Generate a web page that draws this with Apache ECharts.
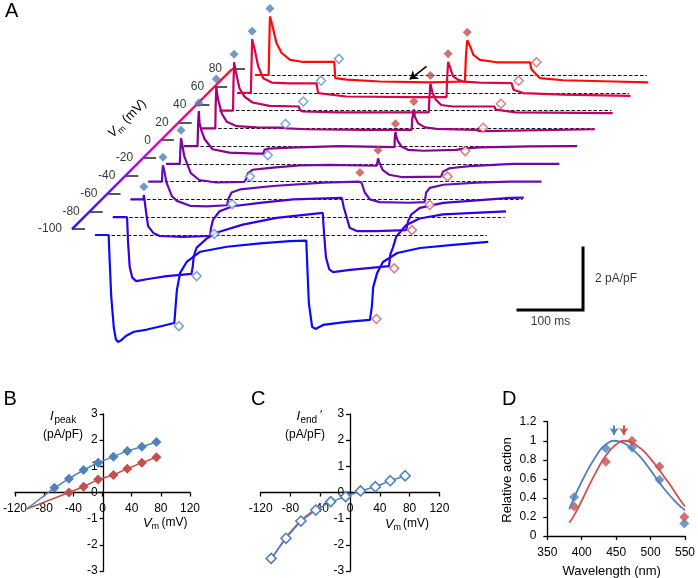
<!DOCTYPE html>
<html><head><meta charset="utf-8">
<script src="https://cdn.jsdelivr.net/npm/echarts@6/dist/echarts.min.js"></script>
<style>html,body{margin:0;padding:0;background:#fff}#c{width:698px;height:578px}</style>
</head><body><div id="c"></div><script>
// ---------- DATA ----------
const vmLevels = [-100,-80,-60,-40,-20,0,20,40,60,80];
// traces: [time from trace start (ms), current relative to trace baseline (pA/pF)]
const trace_m100 = [[0,0],[21,0],[22.5,-0.8],[25,-2.0],[29,-3.0],[32,-3.35],[35,-3.45],[40,-3.4],[48,-3.25],[60,-3.12],[80,-3.05],[100,-2.95],[122,-2.84],[124,-2.3],[126,-1.77],[131,-1.22],[141,-0.87],[162,-0.54],[203,-0.38],[254,-0.27],[300,-0.2],[325,-0.18],[327,-1.2],[329,-2.2],[334,-2.96],[339,-3.03],[351,-2.9],[387,-2.8],[423,-2.74],[426,-2.3],[428,-1.68],[434,-1.23],[443,-0.87],[465,-0.58],[500,-0.42],[551,-0.32],[605,-0.22]];
const trace_m80 = [[0,0],[22,0],[23.5,-0.8],[26,-1.6],[30,-1.95],[36,-2.06],[45,-2.03],[52,-2.0],[83,-1.9],[121,-1.83],[123,-1.6],[124.5,-1.26],[129,-0.98],[144,-0.7],[159,-0.5],[200,-0.24],[252,-0.02],[323,0.14],[325,-0.5],[328,-1.3],[333,-1.68],[339,-1.77],[365,-1.7],[425,-1.58],[427,-1.2],[431,-0.98],[436,-0.63],[451,-0.26],[472,-0.04],[508,0.09],[605,0.19]];
const trace_m60 = [[0,0],[20,0],[20.5,0.15],[22,0.12],[24,-0.43],[27,-0.86],[35,-1.08],[45,-1.18],[81,-1.21],[122,-1.18],[124,-0.9],[127,-0.65],[137,-0.38],[157,-0.22],[199,-0.11],[250,0],[325,0.05],[328,-0.25],[332,-0.54],[337,-0.91],[348,-1.02],[378,-1.02],[424,-0.99],[427,-0.7],[432,-0.48],[445,-0.27],[481,-0.11],[584,0.05],[605,0.06]];
const trace_m40 = [[0,0],[21,0],[21.5,0.3],[22.5,0.53],[25,0.3],[28,-0.03],[36,-0.46],[44,-0.62],[64,-0.78],[90,-0.8],[121,-0.76],[123,-0.57],[128,-0.35],[141,-0.25],[192,-0.14],[269,-0.03],[324,0],[325.5,0.04],[328,-0.03],[333,-0.35],[341,-0.57],[356,-0.66],[402,-0.68],[425,-0.66],[427.5,-0.35],[433,-0.2],[454,-0.1],[505,-0.03],[557,0],[605,0]];
const trace_m20 = [[0,0],[21,0],[22,0.5],[23,0.83],[25,0.6],[28,0.24],[38,-0.3],[51,-0.52],[77,-0.6],[120,-0.58],[123,-0.5],[126,-0.3],[133,-0.19],[164,-0.12],[205,-0.05],[252,-0.03],[324,-0.06],[325,0.05],[326,0.18],[328,0.05],[333,-0.19],[343,-0.35],[364,-0.43],[423,-0.41],[426,-0.25],[436,-0.14],[467,-0.07],[533,0],[605,0]];
const trace_0 = [[0,0],[21,0],[22,0.8],[23,1.13],[24,0.75],[27,0.5],[32,0.22],[44,-0.1],[70,-0.21],[111,-0.24],[122,-0.24],[124,-0.12],[130,-0.08],[163,-0.05],[240,0],[324,-0.03],[324.5,0.3],[325.5,0.46],[327,0.3],[329,0.17],[334.5,-0.01],[345,-0.12],[368,-0.15],[419,-0.12],[425,-0.1],[429,-0.08],[455,-0.04],[532,-0.01],[605,0]];
const trace_20 = [[0,0],[21,0],[21.5,0.7],[22.5,1.33],[24,1.1],[25.5,0.91],[31,0.48],[38.5,0.21],[54,0.07],[85,0.03],[122,0.02],[124,0],[131,0],[161,-0.03],[250,-0.05],[323,-0.05],[324,0.3],[326.5,0.61],[328,0.37],[333,0.16],[343.5,0.03],[361.5,-0.02],[423,-0.05],[428,-0.09],[454,-0.08],[605,-0.03]];
const trace_40 = [[0,0],[21,0],[21.5,0.8],[22.5,1.56],[25.7,1.2],[30.8,0.72],[38.5,0.45],[51,0.26],[77,0.15],[122,0.13],[124,0.02],[128,-0.03],[185,-0.06],[322,-0.06],[323,0.4],[324.5,0.87],[328,0.56],[333,0.35],[341,0.18],[359,0.13],[423,0.13],[425,0.03],[428,-0.03],[456,-0.06],[605,-0.08]];
const trace_60 = [[0,0],[21,0],[22,0.9],[23,1.73],[27,1.39],[32.3,0.85],[40,0.47],[53,0.33],[81,0.3],[122,0.3],[124.5,-0.01],[168,-0.12],[271,-0.14],[322,-0.14],[323,0.5],[324.5,1.0],[327,0.85],[332,0.53],[340,0.42],[348,0.36],[373,0.33],[422,0.31],[425,0.1],[427,0.04],[440,-0.01],[501,-0.06],[605,-0.1]];
const trace_80 = [[0,0],[21,0],[22,1.0],[23,1.89],[27,1.57],[33,1.03],[41,0.71],[54,0.49],[74,0.42],[122,0.42],[123.5,-0.1],[141,-0.15],[192,-0.21],[269,-0.24],[323,-0.21],[324.5,0.6],[326.5,1.12],[331,0.92],[336,0.65],[346,0.49],[372,0.41],[423,0.41],[425,0.2],[428,0.12],[438,-0.1],[474,-0.17],[551,-0.21],[605,-0.24]];
const traces = [trace_m100,trace_m80,trace_m60,trace_m40,trace_m20,trace_0,trace_20,trace_40,trace_60,trace_80];
const traceLength = 605;
// end-of-pulse currents (open diamonds)
const blueEndI = [-2.94,-1.9,-1.11,-0.73,-0.41,-0.29,0.14,0.29,0.39,0.52];
const redEndI  = [-2.71,-1.65,-0.99,-0.75,-0.41,-0.16,0.02,0.22,0.39,0.41];
const bluePeakFrom = 2, redPeakFrom = 3;
// scale bar
const scaleMs = 100, scalePA = 2;

// Panel B
const bBlueVm = [-66,-46,-26,-6,15,34,54,74];
const bBlue   = [0.18,0.53,0.86,1.14,1.37,1.59,1.75,1.93];
const bRedVm  = [-46,-26,-6,15,34,54,74];
const bRed    = [0.0,0.22,0.5,0.67,0.91,1.14,1.35];
const bFitStart = [-104,-0.63];
// Panel C
const cVm   = [-106,-86,-66,-46,-26,-6,14,34,54,74];
const cBlue = [-2.52,-1.75,-1.09,-0.67,-0.35,-0.16,0.06,0.22,0.45,0.64];
const cRedVm = [-106,-86,-66,-46];
const cRed   = [-2.56,-1.7,-1.05,-0.62];
// Panel D
const dWl   = [389,435,473,513,549];
const dBlue = [0.41,0.92,0.93,0.59,0.13];
const dRed  = [0.31,0.78,1.0,0.73,0.2];
const dBlueCurveWl = [382,390,400,410,420,430,440,447,455,465,475,485,495,505,515,525,535,545,550];
const dBlueCurve   = [0.28,0.42,0.57,0.71,0.83,0.93,0.985,1.0,0.99,0.96,0.9,0.83,0.74,0.64,0.54,0.45,0.37,0.3,0.27];
const dRedCurveWl  = [382,390,400,410,420,430,440,450,461,470,480,490,500,510,520,530,540,550];
const dRedCurve    = [0.14,0.23,0.37,0.52,0.66,0.79,0.89,0.96,1.0,0.99,0.95,0.89,0.81,0.72,0.62,0.52,0.41,0.31];
const dPeakBlue = 447, dPeakRed = 461;

// ---------- STYLE / LAYOUT ----------
const FONT = '"Liberation Sans", Arial, sans-serif';
const traceColors = ['#0a0aff','#3000e6','#4c00cc','#6010b4','#7408a2','#880092','#a2007e','#c00064','#dc0846','#ff0a0a'];
const BLUE = '#4F81BD', RED = '#C0504D';
const offMs = 27.35, offPA = 0.5735;     // waterfall stacking offset per trace
const axDt = -35.4, axDI = 0.19;         // Vm axis offset from trace start
const tickMs = 20;
const blueEndT = 129, redEndT = 433;
const zip = (a,b)=>a.map((v,i)=>[v,b[i]]);
const place = (k,p)=>[p[0]+k*offMs, p[1]+k*offPA];

const series = [];
// dashed baselines
series.push({type:'lines',coordinateSystem:'cartesian2d',xAxisIndex:0,yAxisIndex:0,z:1,silent:true,
  lineStyle:{color:'#111',width:1,type:[3.5,2],opacity:1},
  data: traces.map((tr,k)=>({coords:[place(k,[0,0]),place(k,[traceLength-2,0])]}))});
// traces
traces.forEach((tr,k)=>{
  series.push({type:'line',xAxisIndex:0,yAxisIndex:0,z:3,symbol:'none',silent:true,
    lineStyle:{color:traceColors[k],width:2.2},data:tr.map(p=>place(k,p))});
});
// Vm axis
series.push({type:'line',xAxisIndex:0,yAxisIndex:0,z:2,symbol:'none',silent:true,
  lineStyle:{width:2.5,color:new echarts.graphic.LinearGradient(0,1,1,0,[{offset:0,color:'#1a1aff'},{offset:0.5,color:'#c010d0'},{offset:1,color:'#ff1818'}])},
  data:[place(0,[axDt,axDI]),place(vmLevels.length-1,[axDt,axDI])]});
series.push({type:'lines',coordinateSystem:'cartesian2d',xAxisIndex:0,yAxisIndex:0,z:2,silent:true,
  lineStyle:{color:'#222',width:1.5,opacity:1},
  data: vmLevels.map((v,k)=>({coords:[place(k,[axDt,axDI]),place(k,[axDt+tickMs,axDI])]}))});
series.push({type:'scatter',xAxisIndex:0,yAxisIndex:0,symbolSize:0,silent:true,
  label:{show:true,position:'left',distance:10,fontSize:12,fontFamily:FONT,color:'#000',formatter:p=>String(p.value[2])},
  data: vmLevels.map((v,k)=>[...place(k,[axDt,axDI]),v])});
// peak markers
function peakOf(tr,t0,t1){let best=null;tr.forEach(p=>{if(p[0]>=t0&&p[0]<=t1&&(!best||p[1]>best[1]))best=p;});return best;}
series.push({type:'scatter',xAxisIndex:0,yAxisIndex:0,z:5,symbol:'diamond',symbolSize:9,symbolOffset:[0,-8],silent:true,
  itemStyle:{color:BLUE},data:traces.map((tr,k)=>k>=bluePeakFrom?place(k,peakOf(tr,0,80)):null).filter(Boolean)});
series.push({type:'scatter',xAxisIndex:0,yAxisIndex:0,z:5,symbol:'diamond',symbolSize:9,symbolOffset:[0,-8],silent:true,
  itemStyle:{color:RED},data:traces.map((tr,k)=>k>=redPeakFrom?place(k,peakOf(tr,315,340)):null).filter(Boolean)});
// end markers (open)
series.push({type:'scatter',xAxisIndex:0,yAxisIndex:0,z:5,symbol:'diamond',symbolSize:9,silent:true,
  itemStyle:{color:'#fff',borderColor:'#5b8fd0',borderWidth:1.5},data:blueEndI.map((v,k)=>place(k,[blueEndT,v]))});
series.push({type:'scatter',xAxisIndex:0,yAxisIndex:0,z:5,symbol:'diamond',symbolSize:9,silent:true,
  itemStyle:{color:'#fff',borderColor:'#d06060',borderWidth:1.5},data:redEndI.map((v,k)=>place(k,[redEndT,v]))});
// arrow pointing at the 80 mV trace
const kTop = vmLevels.length-1;
series.push({type:'lines',coordinateSystem:'cartesian2d',xAxisIndex:0,yAxisIndex:0,z:6,silent:true,
  symbol:['none','arrow'],symbolSize:8,lineStyle:{color:'#000',width:1.5,opacity:1},
  data:[{coords:[place(kTop,[264,0.28]),place(kTop,[238,-0.14])]}]});
// scale bar
const sbX = 750.8, sbY = -2.42;
series.push({type:'lines',coordinateSystem:'cartesian2d',xAxisIndex:0,yAxisIndex:0,polyline:true,silent:true,
  lineStyle:{color:'#000',width:3,opacity:1,cap:'square'},
  data:[{coords:[[sbX-scaleMs,sbY],[sbX,sbY],[sbX,sbY+scalePA]]}]});
series.push({type:'scatter',xAxisIndex:0,yAxisIndex:0,symbolSize:0,silent:true,
  label:{show:true,fontSize:12,fontFamily:FONT,color:'#000',formatter:p=>p.value[2]},
  data:[{value:[sbX-scaleMs/2,sbY,scaleMs+' ms'],label:{position:'bottom',distance:6}},
        {value:[sbX,sbY+scalePA/2,scalePA+' pA/pF'],label:{position:'right',distance:12}}]});

// Panel B
series.push({type:'line',xAxisIndex:1,yAxisIndex:1,symbol:'diamond',symbolSize:10,
  lineStyle:{color:RED,width:1.5},itemStyle:{color:RED},
  data:[{value:bFitStart,symbol:'none'},...zip(bRedVm,bRed)]});
series.push({type:'line',xAxisIndex:1,yAxisIndex:1,symbol:'diamond',symbolSize:10,
  lineStyle:{color:BLUE,width:1.5},itemStyle:{color:BLUE},
  data:[{value:bFitStart,symbol:'none'},...zip(bBlueVm,bBlue)]});
// Panel C
series.push({type:'line',xAxisIndex:2,yAxisIndex:2,symbol:'none',
  lineStyle:{color:RED,width:1.5},data:zip(cRedVm,cRed)});
series.push({type:'line',xAxisIndex:2,yAxisIndex:2,symbol:'diamond',symbolSize:10,
  lineStyle:{color:BLUE,width:1.5},itemStyle:{color:'#fff',borderColor:BLUE,borderWidth:1.6},
  data:zip(cVm,cBlue)});
// Panel D
series.push({type:'line',xAxisIndex:3,yAxisIndex:3,symbol:'none',smooth:true,
  lineStyle:{color:BLUE,width:1.8},data:zip(dBlueCurveWl,dBlueCurve)});
series.push({type:'line',xAxisIndex:3,yAxisIndex:3,symbol:'none',smooth:true,
  lineStyle:{color:'#D0504D',width:1.8},data:zip(dRedCurveWl,dRedCurve)});
series.push({type:'scatter',xAxisIndex:3,yAxisIndex:3,symbol:'diamond',symbolSize:10,itemStyle:{color:BLUE},data:zip(dWl,dBlue)});
series.push({type:'scatter',xAxisIndex:3,yAxisIndex:3,symbol:'diamond',symbolSize:10,itemStyle:{color:RED},data:zip(dWl,dRed)});
series.push({type:'lines',coordinateSystem:'cartesian2d',xAxisIndex:3,yAxisIndex:3,symbol:['none','arrow'],symbolSize:7,silent:true,
  data:[{coords:[[dPeakBlue,1.16],[dPeakBlue,1.06]],lineStyle:{color:BLUE,width:2,opacity:1}},
        {coords:[[dPeakRed,1.16],[dPeakRed,1.06]],lineStyle:{color:'#D0504D',width:2,opacity:1}}]});

const axColor = {color:'#000',width:1.3};
function valAxis(grid,min,max,interval,extra){
  return Object.assign({type:'value',gridIndex:grid,min,max,interval,
    axisLine:{show:true,onZero:false,lineStyle:axColor},
    axisTick:{show:true,length:4,lineStyle:axColor},
    splitLine:{show:false},
    axisLabel:{fontSize:12,fontFamily:FONT,color:'#000',margin:7}},extra||{});
}
const lab = m=>({axisLabel:{fontSize:12,fontFamily:FONT,color:'#000',margin:m}});

const option = {
  animation:false,
  backgroundColor:'#fff',
  grid:[
    {left:30,top:2.5,width:650,height:356.5},
    {left:12.7,top:414,width:177.3,height:157},
    {left:260.7,top:414,width:178.7,height:157},
    {left:547.3,top:421.7,width:139.4,height:114.3}
  ],
  xAxis:[
    {type:'value',gridIndex:0,min:-100,max:900,show:false},
    valAxis(1,-120,120,40,Object.assign({position:'bottom',offset:-78.5},lab(10))),
    valAxis(2,-120,120,40,Object.assign({position:'bottom',offset:-78.5},lab(10))),
    valAxis(3,350,550,50,Object.assign({position:'bottom'},lab(11)))
  ],
  yAxis:[
    {type:'value',gridIndex:0,min:-4,max:7.5,show:false},
    valAxis(1,-3,3,1,Object.assign({position:'left',offset:-88.65},lab(6))),
    valAxis(2,-3,3,1,Object.assign({position:'left',offset:-89.35},lab(6))),
    valAxis(3,0,1.2,0.2,Object.assign({position:'left'},lab(11)))
  ],
  series,
  graphic:[
    {type:'text',x:5,y:1.5,style:{text:'A',fontSize:20,fontFamily:FONT,fill:'#000'}},
    {type:'text',x:3.5,y:389,style:{text:'B',fontSize:20,fontFamily:FONT,fill:'#000'}},
    {type:'text',x:251,y:389,style:{text:'C',fontSize:20,fontFamily:FONT,fill:'#000'}},
    {type:'text',x:502,y:389,style:{text:'D',fontSize:20,fontFamily:FONT,fill:'#000'}},
    {type:'group',x:128,y:118,rotation:Math.PI/4,children:[
      {type:'text',x:-25,y:0,style:{text:'V',fontSize:13,fontStyle:'italic',fontFamily:FONT,fill:'#000',verticalAlign:'middle'}},
      {type:'text',x:-16.5,y:4,style:{text:'m',fontSize:9,fontFamily:FONT,fill:'#000',verticalAlign:'middle'}},
      {type:'text',x:-5,y:0,style:{text:'(mV)',fontSize:13,fontFamily:FONT,fill:'#000',verticalAlign:'middle'}}
    ]},
    {type:'text',x:50,y:409.5,style:{text:'I',fontSize:13,fontStyle:'italic',fontFamily:FONT,fill:'#000'}},
    {type:'text',x:54.5,y:415.5,style:{text:'peak',fontSize:10,fontFamily:FONT,fill:'#000'}},
    {type:'text',x:43,y:428.5,style:{text:'(pA/pF)',fontSize:12,fontFamily:FONT,fill:'#000'}},
    {type:'text',x:143,y:516.5,style:{text:'V',fontSize:13,fontStyle:'italic',fontFamily:FONT,fill:'#000'}},
    {type:'text',x:151.5,y:522.5,style:{text:'m',fontSize:9,fontFamily:FONT,fill:'#000'}},
    {type:'text',x:161.5,y:517,style:{text:'(mV)',fontSize:12,fontFamily:FONT,fill:'#000'}},
    {type:'text',x:296.5,y:409.5,style:{text:'I',fontSize:13,fontStyle:'italic',fontFamily:FONT,fill:'#000'}},
    {type:'text',x:300.5,y:415.5,style:{text:'end',fontSize:10,fontFamily:FONT,fill:'#000'}},
    {type:'text',x:320,y:409.5,style:{text:'\u2032',fontSize:12,fontFamily:FONT,fill:'#000'}},
    {type:'text',x:285,y:428.5,style:{text:'(pA/pF)',fontSize:12,fontFamily:FONT,fill:'#000'}},
    {type:'text',x:385,y:517.5,style:{text:'V',fontSize:13,fontStyle:'italic',fontFamily:FONT,fill:'#000'}},
    {type:'text',x:393.5,y:523.5,style:{text:'m',fontSize:9,fontFamily:FONT,fill:'#000'}},
    {type:'text',x:403,y:518,style:{text:'(mV)',fontSize:12,fontFamily:FONT,fill:'#000'}},
    {type:'text',x:507.7,y:480,rotation:Math.PI/2,style:{text:'Relative action',fontSize:13,fontFamily:FONT,fill:'#000',align:'center',verticalAlign:'middle'}},
    {type:'text',x:611.7,y:571,style:{text:'Wavelength (nm)',fontSize:13,fontFamily:FONT,fill:'#000',align:'center',verticalAlign:'middle'}}
  ]
};
const chart = echarts.init(document.getElementById('c'),null,{renderer:'canvas'});
chart.setOption(option);
</script></body></html>
